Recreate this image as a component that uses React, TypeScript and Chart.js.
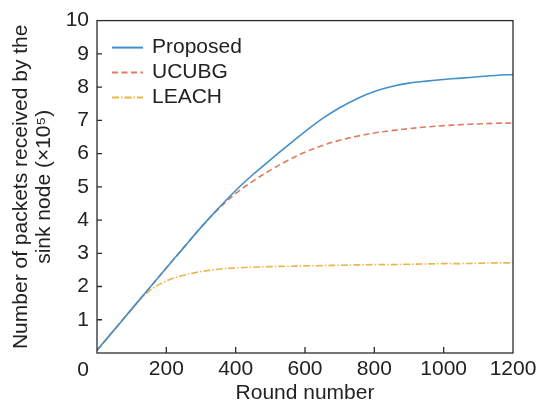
import React, { useEffect, useRef } from 'react';
import { Chart, registerables } from 'chart.js';

Chart.register(...registerables);

// ---- data ----
const rounds = [0, 50, 100, 150, 200, 250, 300, 350, 400, 450, 500, 550, 600, 650, 700, 750, 800, 850, 900, 950, 1000, 1050, 1100, 1150, 1200];
const proposed = [0.08, 0.70, 1.32, 1.94, 2.56, 3.17, 3.78, 4.35, 4.89, 5.37, 5.81, 6.24, 6.66, 7.05, 7.38, 7.65, 7.87, 8.02, 8.12, 8.18, 8.23, 8.27, 8.31, 8.35, 8.38];
const ucubg = [0.08, 0.70, 1.32, 1.94, 2.56, 3.17, 3.78, 4.33, 4.80, 5.17, 5.50, 5.79, 6.04, 6.24, 6.40, 6.52, 6.62, 6.69, 6.75, 6.80, 6.84, 6.87, 6.89, 6.91, 6.92];
const leach = [0.08, 0.70, 1.32, 1.86, 2.17, 2.34, 2.45, 2.52, 2.56, 2.58, 2.60, 2.61, 2.62, 2.63, 2.64, 2.65, 2.66, 2.66, 2.67, 2.68, 2.69, 2.69, 2.70, 2.71, 2.71];
const seriesLabels = ['Proposed', 'UCUBG', 'LEACH'];
const xTicks = [0, 200, 400, 600, 800, 1000, 1200];
const yTicks = [0, 1, 2, 3, 4, 5, 6, 7, 8, 9, 10];
const xTitle = 'Round number';
const yTitle = ['Number of packets received by the', 'sink node (×10⁵)'];
const originLabel = '0';

const FONT = "'Liberation Sans', Arial, Helvetica, sans-serif";
const FS = 21;
const TEXT = '#222222';
const colors = ['#4290c9', '#e27b5e', '#e9b74e'];
const dashes: number[][] = [[], [6, 3.5], [7, 2, 1.5, 2]];

const decorPlugin = {
  id: 'decor',
  afterDatasetsDraw(chart: any) {
    const { ctx, chartArea: a, scales } = chart;
    ctx.save();
    // frame
    ctx.strokeStyle = '#2b2b2b';
    ctx.lineWidth = 1.3;
    ctx.setLineDash([]);
    ctx.strokeRect(a.left, a.top, a.right - a.left, a.bottom - a.top);
    // inward ticks
    ctx.beginPath();
    for (const v of xTicks) {
      if (v === xTicks[0] || v === xTicks[xTicks.length - 1]) continue;
      const px = scales.x.getPixelForValue(v);
      ctx.moveTo(px, a.bottom);
      ctx.lineTo(px, a.bottom - 6);
    }
    for (const v of yTicks) {
      if (v === yTicks[0] || v === yTicks[yTicks.length - 1]) continue;
      const py = scales.y.getPixelForValue(v);
      ctx.moveTo(a.left, py);
      ctx.lineTo(a.left + 5, py);
    }
    ctx.stroke();
    // shared origin label
    ctx.font = `${FS}px ${FONT}`;
    ctx.fillStyle = TEXT;
    ctx.textAlign = 'right';
    ctx.textBaseline = 'middle';
    ctx.fillText(originLabel, a.left - 8, a.bottom + 17);
    // legend
    const lx0 = a.left + 15;
    const lx1 = a.left + 46;
    const tx = a.left + 55;
    const rowY = [a.top + 27, a.top + 52, a.top + 77];
    chart.data.datasets.forEach((ds: any, i: number) => {
      const y = rowY[i];
      ctx.strokeStyle = ds.borderColor;
      ctx.lineWidth = 2;
      ctx.setLineDash(ds.borderDash || []);
      ctx.beginPath();
      ctx.moveTo(lx0, y);
      ctx.lineTo(lx1, y);
      ctx.stroke();
      ctx.setLineDash([]);
      ctx.textAlign = 'left';
      ctx.textBaseline = 'middle';
      ctx.fillStyle = TEXT;
      ctx.fillText(ds.label, tx, y);
    });
    ctx.restore();
  },
};

export default function App() {
  const ref = useRef<HTMLCanvasElement>(null);
  useEffect(() => {
    if (!ref.current) return;
    Chart.defaults.font.family = FONT;
    Chart.defaults.color = TEXT;
    const series = [proposed, ucubg, leach];
    const chart = new Chart(ref.current, {
      type: 'line',
      data: {
        datasets: series.map((vals, i) => ({
          label: seriesLabels[i],
          data: rounds.map((r, j) => ({ x: r, y: vals[j] })),
          borderColor: colors[i],
          backgroundColor: colors[i],
          borderDash: dashes[i],
          borderWidth: 1.6,
          pointRadius: 0,
          fill: false,
          tension: 0.35,
        })),
      },
      options: {
        responsive: false,
        animation: false,
        layout: { padding: { top: 20, right: 31, bottom: 0, left: 0 } },
        plugins: { legend: { display: false }, tooltip: { enabled: false } },
        scales: {
          x: {
            type: 'linear',
            min: 0,
            max: 1200,
            afterFit: (s: any) => { s.height = 52; },
            afterBuildTicks: (s: any) => { s.ticks = xTicks.map((v) => ({ value: v })); },
            grid: { display: false, drawTicks: false },
            border: { display: false },
            ticks: {
              padding: 4,
              font: { size: FS },
              color: TEXT,
              maxRotation: 0,
              callback: (v: any) => (v === 0 ? '' : String(v)),
            },
            title: {
              display: true,
              text: xTitle,
              font: { size: FS, lineHeight: 1.1 },
              color: TEXT,
              padding: { top: 0, bottom: 0 },
            },
          },
          y: {
            type: 'linear',
            min: 0,
            max: 10,
            afterFit: (s: any) => { s.width = 97; },
            afterBuildTicks: (s: any) => { s.ticks = yTicks.map((v) => ({ value: v })); },
            grid: { display: false, drawTicks: false },
            border: { display: false },
            ticks: {
              padding: 8,
              font: { size: FS },
              color: TEXT,
              callback: (v: any) => (v === 0 ? '' : String(v)),
            },
            title: {
              display: true,
              text: yTitle,
              font: { size: FS, lineHeight: 1.08 },
              color: TEXT,
              padding: { top: 10, bottom: 0 },
            },
          },
        },
      },
      plugins: [decorPlugin],
    });
    return () => chart.destroy();
  }, []);
  return (
    <div style={{ position: 'absolute', left: 0, top: 0, width: 544, height: 405, background: '#fff' }}>
      <canvas ref={ref} width={544} height={405} />
    </div>
  );
}
